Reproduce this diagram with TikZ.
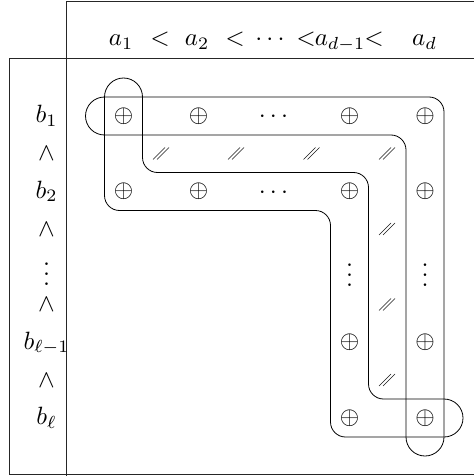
\documentclass[tikz,border=0pt]{standalone}
% three stacked dots without the extra space above them
\newcommand\shortvdots{\vbox{\baselineskip4pt \lineskiplimit0pt \hbox{.}\hbox{.}\hbox{.}}}
\begin{document}
\begin{tikzpicture}[x=1pt,y=-1pt,
  frame/.style={line width=0.8pt, black!85},
  band/.style={line width=0.8pt, line join=round},
  lbl/.style={scale=2.5, anchor=base, inner sep=0pt},
  sym/.style={scale=2.5, inner sep=0pt},
  slashline/.style={line width=0.6pt, black!90},
  dslash/.pic={
    \draw[slashline] (-8,6) -- (4,-6);
    \draw[slashline] (-4,6) -- (8,-6);
  }]
\useasboundingbox (0,0) rectangle (474,476);

% table rules
\draw[frame] (66.5,1.5) -- (474,1.5);
\draw[frame] (66.5,1.5) -- (66.5,476);
\draw[frame] (9.5,58.5) -- (474,58.5);
\draw[frame] (9.5,58.5) -- (9.5,474.5) -- (474,474.5);

% header chain a_1 < ... < a_d
\node[lbl] (a1) at (121,46) {$a_1$};
\node[lbl] (lt1) at (160,46) {$<$};
\node[lbl] (a2) at (197,46) {$a_2$};
\node[lbl] (lt2) at (235,46) {$<$};
\node[lbl] (adots) at (270,46) {$\cdots$};
\node[lbl] (lt3) at (306,46) {$<$};
\node[lbl] (adm) at (340,46) {$a_{d-1}$};
\node[lbl] (lt4) at (374,46) {$<$};
\node[lbl] (ad) at (424.5,46) {$a_d$};

% side chain b_1 > ... > b_l
\node[lbl] (b1) at (46.5,123) {$b_1$};
\node[lbl] (w1) at (46.5,160.5) {$\wedge$};
\node[lbl] (b2) at (46.5,198) {$b_2$};
\node[lbl] (w2) at (46.5,236) {$\wedge$};
\node[lbl] (bdots) at (46.5,285.5) {$\shortvdots$};
\node[lbl] (w3) at (46.5,311.5) {$\wedge$};
\node[lbl] (blm) at (46.5,349) {$b_{\ell-1}$};
\node[lbl] (w4) at (46.5,387) {$\wedge$};
\node[lbl] (bl) at (46.5,424.5) {$b_\ell$};

% row b_1
\node[sym] (p11) at (123.5,116) {$\oplus$};
\node[sym] (p12) at (198.5,116) {$\oplus$};
\node[lbl] (d1) at (273.5,122.5) {$\cdots$};
\node[sym] (p14) at (349.5,116) {$\oplus$};
\node[sym] (p15) at (425,116) {$\oplus$};
% row b_2
\node[sym] (p21) at (123.5,191.5) {$\oplus$};
\node[sym] (p22) at (198.5,191.5) {$\oplus$};
\node[lbl] (d2) at (273.5,198) {$\cdots$};
\node[sym] (p24) at (349.5,191.5) {$\oplus$};
\node[sym] (p25) at (425,191.5) {$\oplus$};
% vertical dots
\node[lbl] (v4) at (349.5,286) {$\shortvdots$};
\node[lbl] (v5) at (425,286) {$\shortvdots$};
% rows b_{l-1} and b_l
\node[sym] (p34) at (349.5,342.5) {$\oplus$};
\node[sym] (p35) at (425,342.5) {$\oplus$};
\node[sym] (p44) at (349.5,418) {$\oplus$};
\node[sym] (p45) at (425,418) {$\oplus$};

% double slashes between the two bands
\foreach \x in {161,236,311.5,387} \pic at (\x,153.5) {dslash};
\foreach \y in {229,304.5,380} \pic at (387,\y) {dslash};

% band: row b_1 and column a_d
\draw[band] (104.5,97) -- (429,97) arc[start angle=270,end angle=360,radius=15]
  -- (444,437) arc[start angle=0,end angle=180,radius=19]
  -- (406,150) arc[start angle=0,end angle=-90,radius=15]
  -- (104.5,135) arc[start angle=90,end angle=270,radius=19]
  -- cycle;

% band: column a_1, row b_2, column a_{d-1}, row b_l
\draw[band] (104.5,97) arc[start angle=180,end angle=360,radius=19]
  -- (142.5,157.5) arc[start angle=180,end angle=90,radius=15]
  -- (353.5,172.5) arc[start angle=270,end angle=360,radius=15]
  -- (368.5,384) arc[start angle=180,end angle=90,radius=15]
  -- (444,399) arc[start angle=270,end angle=450,radius=19]
  -- (345.5,437) arc[start angle=90,end angle=180,radius=15]
  -- (330.5,225.5) arc[start angle=0,end angle=-90,radius=15]
  -- (119.5,210.5) arc[start angle=90,end angle=180,radius=15]
  -- cycle;
\end{tikzpicture}
\end{document}
